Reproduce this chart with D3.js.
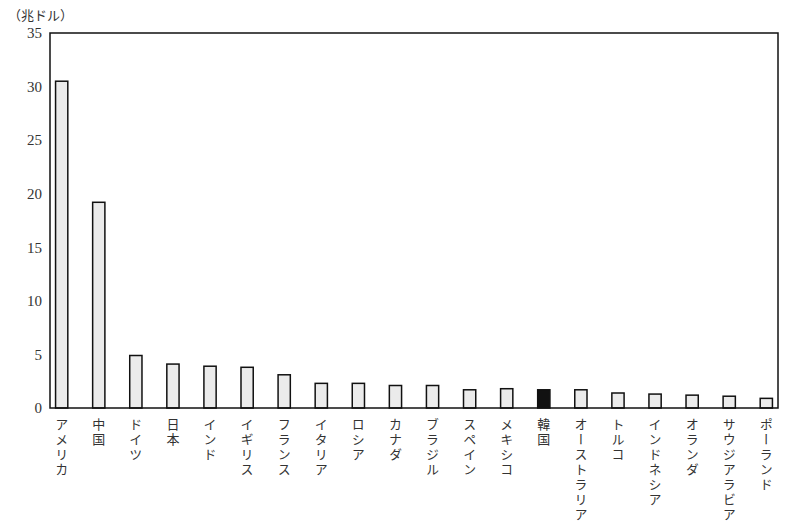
<!DOCTYPE html>
<html><head><meta charset="utf-8">
<script src="https://cdn.jsdelivr.net/npm/d3@7"></script>
<style>body{margin:0;background:#fff}</style>
</head><body>
<svg id="chart" width="800" height="531"></svg>
<script>
const countries = ["アメリカ","中国","ドイツ","日本","インド","イギリス","フランス","イタリア","ロシア","カナダ","ブラジル","スペイン","メキシコ","韓国","オーストラリア","トルコ","インドネシア","オランダ","サウジアラビア","ポーランド"];
const gdp = [30.5, 19.2, 4.9, 4.1, 3.9, 3.8, 3.1, 2.3, 2.3, 2.1, 2.1, 1.7, 1.8, 1.7, 1.7, 1.4, 1.3, 1.2, 1.1, 0.9];
const yTicks = [0, 5, 10, 15, 20, 25, 30, 35];
const highlight = "韓国";

const svg = d3.select("#chart");
const plotLeft = 50, plotRight = 778, plotTop = 33, plotBottom = 408;

const x = d3.scaleBand().domain(countries).range([plotLeft, plotRight]).paddingInner(0.67).paddingOuter(0.15);
const y = d3.scaleLinear().domain([0, 35]).range([plotBottom, plotTop]);

svg.selectAll("rect.bar").data(countries).enter().append("rect")
    .attr("class", "bar")
    .attr("x", d => x(d))
    .attr("width", x.bandwidth())
    .attr("y", (d, i) => y(gdp[i]))
    .attr("height", (d, i) => plotBottom - y(gdp[i]))
    .attr("fill", d => d === highlight ? "#111" : "#ebebeb")
    .attr("stroke", "#111").attr("stroke-width", 1.5);

// frame
svg.append("rect").attr("x", plotLeft).attr("y", plotTop).attr("width", plotRight - plotLeft).attr("height", plotBottom - plotTop)
    .attr("fill", "none").attr("stroke", "#111").attr("stroke-width", 1.5);

svg.selectAll("text.ytick").data(yTicks).enter().append("text")
    .attr("x", plotLeft - 8).attr("y", d => y(d)).attr("dy", "0.35em")
    .attr("text-anchor", "end")
    .attr("font-family", "Liberation Serif").attr("font-size", 15).attr("fill", "#333")
    .text(d => d);

svg.append("text").attr("x", 8).attr("y", 20)
    .attr("font-family", "Noto Sans CJK JP").attr("font-size", 13).attr("fill", "#333")
    .text("（兆ドル）");

svg.selectAll("text.xlab").data(countries).enter().append("text")
    .attr("x", d => x(d) + x.bandwidth() / 2).attr("y", 418)
    .attr("style", "writing-mode: vertical-rl; text-orientation: upright;")
    .attr("font-family", "Noto Sans CJK JP").attr("font-size", 13).attr("fill", "#333")
    .attr("letter-spacing", 2)
    .text(d => d);
</script>
</body></html>
